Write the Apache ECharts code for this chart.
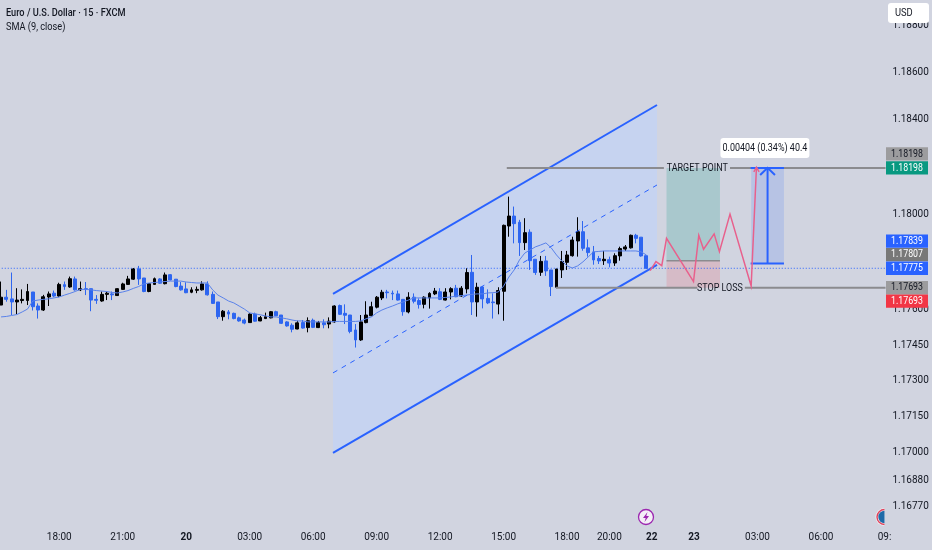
<!DOCTYPE html>
<html><head><meta charset="utf-8">
<style>html,body{margin:0;padding:0;background:#d1d4e0}#c{width:932px;height:550px}</style>
<script src="https://cdn.jsdelivr.net/npm/echarts@6/dist/echarts.min.js"></script>
</head><body><div id="c"></div>
<script>
// Candles: prices
const candleOpen = [1.17620,1.17653,1.17646,1.17633,1.17639,1.17639,1.17675,1.17616,1.17599,1.17654,1.17670,1.17658,1.17706,1.17696,1.17730,1.17684,1.17689,1.17689,1.17644,1.17637,1.17665,1.17667,1.17660,1.17686,1.17707,1.17729,1.17772,1.17734,1.17677,1.17707,1.17730,1.17710,1.17748,1.17729,1.17700,1.17688,1.17674,1.17682,1.17684,1.17709,1.17665,1.17633,1.17571,1.17591,1.17585,1.17566,
1.17557,1.17546,1.17582,1.17553,1.17563,1.17566,1.17592,1.17578,1.17549,1.17535,1.17519,1.17546,1.17525,1.17556,1.17525,1.17545,1.17540,1.17549,1.17618,1.17585,1.17578,1.17515,1.17473,1.17546,1.17575,1.17611,1.17650,1.17675,1.17670,1.17667,
1.17644,1.17591,1.17653,1.17639,1.17623,1.17650,1.17667,1.17676,1.17641,1.17675,1.17691,1.17658,1.17688,1.17758,1.17633,1.17696,1.17648,1.17633,1.17624,1.17678,
1.17953,1.17995,1.17969,1.17883,1.17927,1.17813,1.17758,1.17806,1.17768,1.17695,1.17768,1.17800,1.17828,1.17890,1.17929,1.17861,1.17844,1.17816,1.17807,1.17811,1.17797,1.17827,1.17856,1.17861,1.17914,1.17906,1.17828];
const candleClose = [1.17653,1.17644,1.17633,1.17641,1.17644,1.17677,1.17613,1.17599,1.17655,1.17667,1.17658,1.17707,1.17698,1.17731,1.17684,1.17689,1.17686,1.17641,1.17640,1.17665,1.17670,1.17663,1.17689,1.17709,1.17730,1.17772,1.17730,1.17677,1.17710,1.17731,1.17712,1.17747,1.17726,1.17698,1.17684,1.17672,1.17684,1.17686,1.17709,1.17663,1.17627,1.17571,1.17594,1.17582,1.17563,1.17553,
1.17544,1.17582,1.17552,1.17567,1.17571,1.17592,1.17575,1.17543,1.17532,1.17518,1.17545,1.17523,1.17554,1.17526,1.17546,1.17537,1.17552,1.17616,1.17581,1.17577,1.17509,1.17473,1.17549,1.17578,1.17613,1.17653,1.17674,1.17672,1.17667,1.17641,
1.17592,1.17653,1.17636,1.17622,1.17653,1.17669,1.17679,1.17644,1.17675,1.17689,1.17655,1.17691,1.17757,1.17633,1.17695,1.17646,1.17629,1.17630,1.17681,1.17956,
1.17995,1.17963,1.17883,1.17925,1.17807,1.17757,1.17804,1.17764,1.17698,1.17772,1.17804,1.17831,1.17894,1.17929,1.17859,1.17841,1.17810,1.17806,1.17813,1.17797,1.17828,1.17858,1.17865,1.17914,1.17901,1.17827,1.17775];
const candleLow = [1.17620,1.17634,1.17578,1.17582,1.17627,1.17620,1.17597,1.17563,1.17595,1.17616,1.17653,1.17653,1.17684,1.17693,1.17681,1.17679,1.17662,1.17594,1.17625,1.17634,1.17641,1.17641,1.17658,1.17684,1.17705,1.17726,1.17705,1.17674,1.17674,1.17705,1.17710,1.17707,1.17724,1.17695,1.17681,1.17670,1.17670,1.17670,1.17681,1.17660,1.17625,1.17561,1.17554,1.17560,1.17560,1.17550,
1.17539,1.17545,1.17550,1.17552,1.17561,1.17564,1.17574,1.17540,1.17529,1.17505,1.17518,1.17521,1.17505,1.17523,1.17523,1.17522,1.17522,1.17546,1.17578,1.17540,1.17501,1.17441,1.17469,1.17543,1.17573,1.17606,1.17641,1.17648,1.17641,1.17639,
1.17575,1.17585,1.17627,1.17605,1.17606,1.17605,1.17662,1.17641,1.17639,1.17644,1.17653,1.17655,1.17669,1.17578,1.17571,1.17606,1.17624,1.17563,1.17581,1.17554,
1.17908,1.17880,1.17827,1.17852,1.17768,1.17747,1.17743,1.17743,1.17658,1.17691,1.17734,1.17768,1.17824,1.17824,1.17849,1.17824,1.17790,1.17793,1.17789,1.17779,1.17785,1.17807,1.17848,1.17858,1.17880,1.17824,1.17772];
const candleHigh = [1.17719,1.17684,1.17757,1.17691,1.17686,1.17709,1.17675,1.17627,1.17663,1.17677,1.17681,1.17714,1.17719,1.17740,1.17740,1.17719,1.17717,1.17689,1.17662,1.17677,1.17677,1.17677,1.17691,1.17714,1.17743,1.17776,1.17785,1.17734,1.17712,1.17736,1.17733,1.17757,1.17750,1.17729,1.17717,1.17716,1.17695,1.17698,1.17720,1.17720,1.17677,1.17633,1.17599,1.17599,1.17588,1.17571,
1.17563,1.17585,1.17588,1.17574,1.17588,1.17595,1.17596,1.17578,1.17552,1.17543,1.17554,1.17557,1.17568,1.17563,1.17553,1.17560,1.17568,1.17619,1.17622,1.17623,1.17578,1.17540,1.17578,1.17636,1.17634,1.17658,1.17684,1.17684,1.17681,1.17681,
1.17644,1.17674,1.17669,1.17648,1.17657,1.17674,1.17692,1.17691,1.17691,1.17695,1.17705,1.17700,1.17775,1.17831,1.17714,1.17700,1.17686,1.17669,1.17695,1.17959,
1.18077,1.18035,1.17979,1.17986,1.17939,1.17813,1.17827,1.17827,1.17768,1.17772,1.17848,1.17848,1.17908,1.17990,1.17974,1.17897,1.17869,1.17827,1.17848,1.17824,1.17838,1.17866,1.17873,1.17917,1.17920,1.17906,1.17828];
const smaValues = [1.17570,1.17572,1.17576,1.17580,1.17591,1.17603,1.17637,1.17641,1.17644,1.17646,1.17650,1.17654,1.17662,1.17669,1.17677,1.17686,1.17686,1.17684,1.17681,1.17679,1.17677,1.17673,1.17671,1.17675,1.17681,1.17690,1.17698,1.17709,1.17713,1.17715,1.17717,1.17719,1.17721,1.17721,1.17721,1.17717,1.17715,1.17713,1.17713,1.17713,1.17684,1.17662,1.17650,1.17637,1.17629,1.17616,
1.17603,1.17587,1.17583,1.17579,1.17574,1.17570,1.17570,1.17566,1.17562,1.17557,1.17553,1.17553,1.17549,1.17549,1.17549,1.17549,1.17549,1.17551,1.17551,1.17551,1.17551,1.17551,1.17553,1.17562,1.17570,1.17587,1.17599,1.17608,1.17616,1.17625,
1.17633,1.17641,1.17650,1.17650,1.17650,1.17650,1.17650,1.17650,1.17652,1.17654,1.17658,1.17660,1.17662,1.17665,1.17667,1.17667,1.17671,1.17672,1.17675,1.17700,
1.17738,1.17768,1.17810,1.17839,1.17852,1.17865,1.17873,1.17882,1.17861,1.17831,1.17806,1.17785,1.17776,1.17785,1.17802,1.17823,1.17844,1.17846,1.17848,1.17848,1.17848,1.17848,1.17848,1.17848,1.17848,1.17844,1.17831];

// Time axis labels: candle slot -> text
const timeSlots = [11,23,35,47,59,71,83,95,107,115,123,131,143,155,167];
const timeTexts = ["18:00","21:00","20","03:00","06:00","09:00","12:00","15:00","18:00","20:00","22","23","03:00","06:00","09:"];
const boldTimes = ["20","22","23"];

// Price axis labels
const priceTicks = [1.188,1.186,1.184,1.18,1.176,1.1745,1.173,1.1715,1.17,1.1688,1.1677];

// Price tags on the axis
const tagPrices = [1.18198,1.18198,1.17839,1.17807,1.17775,1.17693,1.17693];

// Drawn objects, as [candle slot, price]
const channelUpper = [[62.75,1.17667],[124.0,1.18463]];
const channelMiddle = [[62.75,1.17334],[124.0,1.18126]];
const channelLower = [[62.75,1.16997],[124.0,1.17789]];
const lastPrice = [[-1,1.17775],[167.3,1.17775]];
const targetLeft = [[95.6,1.18198],[125.3,1.18198]];
const targetRight = [[137.8,1.18198],[167.2,1.18198]];
const stopLeft = [[104.9,1.17693],[131.6,1.17693]];
const stopRight = [[140.6,1.17693],[167.2,1.17693]];
const entryLine = [[125.8,1.17807],[135.9,1.17807]];
const forecast = [[122.7,1.17765],[123.8,1.17803],[124.9,1.17786],[125.8,1.17901],[130.9,1.17719],[131.9,1.17914],[132.8,1.17855],[134.8,1.17920],[135.8,1.17845],[137.8,1.18003],[141.8,1.17700],[142.8,1.18201]];
const forecastHead = [[142.3,1.18181],[142.8,1.18201],[143.3,1.18181]];
const rangeBox = {x:[141.8,148.0], top:1.18198, bottom:1.17795};
const rangeShaft = [[144.9,1.17795],[144.9,1.18198]];
const rangeHead = [[143.5,1.18168],[144.9,1.18198],[146.3,1.18168]];
const rangeTop = [[141.7,1.18198],[148.0,1.18198]];
const rangeBottom = [[141.7,1.17795],[148.0,1.17795]];
const profitBox = {x:[125.8,135.9], top:1.18198, bottom:1.17807};
const lossBox = {x:[125.8,135.9], top:1.17807, bottom:1.17693};

const FONT = 'Roboto, "Liberation Sans", sans-serif';
const INK = '#131722';
const slotCount = 169, slotPx = 5.29;
const catData = Array.from({length:slotCount},(_,i)=>{const j=timeSlots.indexOf(i);return j<0?'':timeTexts[j];});

function lineS(pts, color, width, type, z){
  return {type:'line',xAxisIndex:1,yAxisIndex:0,data:pts,symbol:'none',silent:true,animation:false,z:z||4,
    lineStyle:{color:color,width:width,type:type||'solid',cap:'butt',join:'miter'}};
}
function polyS(pts, fill, z){
  return {type:'custom',xAxisIndex:1,yAxisIndex:0,silent:true,animation:false,z:z||1,clip:false,data:[[0,0]],
    renderItem:(p,api)=>({type:'polygon',shape:{points:pts.map(q=>api.coord(q))},style:{fill:fill}})};
}
function boxPts(b){return [[b.x[0],b.top],[b.x[1],b.top],[b.x[1],b.bottom],[b.x[0],b.bottom]];}
function squeezed(text,x,y,fill,font,sx){
  return {type:'text',x:x,y:y,scaleX:sx||0.78,style:{x:0,y:0,text:text,align:'center',verticalAlign:'middle',fill:fill,font:font}};
}
function labelS(text, at, opts){
  return {type:'custom',xAxisIndex:1,yAxisIndex:0,silent:true,animation:false,z:6,clip:false,data:[[0,0]],
    renderItem:(p,api)=>{const c=api.coord(at);const kids=[];
      if(opts.bg) kids.push({type:'rect',shape:{x:c[0]-opts.w/2,y:c[1]-opts.h/2,width:opts.w,height:opts.h,r:opts.r||0},style:{fill:opts.bg}});
      kids.push(squeezed(text,c[0],c[1],INK,opts.font));
      return {type:'group',children:kids};}};
}
const tagFills = ['#9c9c9e','#089981','#2962ff','#787878','#2962ff','#9c9c9e','#f23645'];
const tagInk = [INK,'#ffffff','#ffffff','#ffffff','#ffffff',INK,'#ffffff'];
const tagShift = [-14,0,-12,-6,0,0,13.4];
const tagSeries = {type:'custom',xAxisIndex:1,yAxisIndex:0,silent:true,animation:false,z:8,clip:false,
  data:tagPrices.map((p,i)=>[i,p]),
  renderItem:(params,api)=>{const i=api.value(0),y=api.coord([0,api.value(1)])[1]+tagShift[i];
    return {type:'group',children:[
      {type:'rect',shape:{x:886,y:y-6.7,width:42,height:13.4},style:{fill:tagFills[i]}},
      squeezed(tagPrices[i].toFixed(5),907,y,tagInk[i],'11px '+FONT,0.8)
    ]};}};

const chart = echarts.init(document.getElementById('c'),null,{renderer:'canvas'});
chart.setOption({
  animation:false,
  backgroundColor:'#d1d4e0',
  grid:{left:-1.6,top:0,width:slotCount*slotPx,height:525,containLabel:false,outerBoundsMode:'none'},
  xAxis:[
    {type:'category',data:catData,axisLine:{show:false},axisTick:{show:false},splitLine:{show:false},
     axisLabel:{interval:0,margin:7,hideOverlap:false,showMinLabel:true,showMaxLabel:true,fontFamily:FONT,fontSize:10,color:INK,
       formatter:v=>v===''?'':(boldTimes.includes(v)?'{b|'+v+'}':v),
       rich:{b:{fontFamily:FONT,fontSize:10,fontWeight:'bold',color:INK}}}},
    {type:'value',show:false,min:-0.5,max:slotCount-0.5}
  ],
  yAxis:[{type:'value',position:'right',min:1.166931,max:1.189055,axisLine:{show:false},axisTick:{show:false},splitLine:{show:false},
    axisLabel:{customValues:priceTicks,margin:0,align:'left',fontFamily:FONT,fontSize:10,color:INK,formatter:v=>v.toFixed(5)}}],
  graphic:[
    {type:'text',z:100,x:6,y:13,scaleX:0.8,style:{x:0,y:0,text:'Euro / U.S. Dollar · 15 · FXCM',verticalAlign:'middle',font:'500 11.5px '+FONT,fill:INK}},
    {type:'text',z:100,x:6,y:27,scaleX:0.8,style:{x:0,y:0,text:'SMA (9, close)',verticalAlign:'middle',font:'11.5px '+FONT,fill:INK}},
    {type:'rect',z:100,shape:{x:888,y:3,width:41,height:20,r:3},style:{fill:'#ffffff'}},
    {type:'text',z:101,x:895,y:13.5,scaleX:0.85,style:{x:0,y:0,text:'USD',verticalAlign:'middle',font:'11px '+FONT,fill:INK}},
    {type:'circle',z:100,shape:{cx:646,cy:517,r:7.5},style:{fill:'#f4eff7',stroke:'#9c27b0',lineWidth:1.3}},
    {type:'polygon',z:101,shape:{points:[[647.5,512],[643,518],[645.7,518],[644.5,522],[649,516],[646.3,516]]},style:{fill:'#9c27b0'}},
    {type:'sector',z:100,shape:{cx:884.5,cy:517,r:9,r0:0,startAngle:Math.PI/2,endAngle:Math.PI*1.5},style:{fill:'#f0f0f4'}},
    {type:'sector',z:101,shape:{cx:884.5,cy:517,r:8.2,r0:6.8,startAngle:Math.PI/2,endAngle:Math.PI*1.5},style:{fill:'#e0405a'}},
    {type:'sector',z:101,shape:{cx:884.5,cy:517,r:6.2,r0:0,startAngle:Math.PI/2,endAngle:Math.PI*1.5},style:{fill:'#1f6aa8'}}
  ],
  series:[
    polyS([channelUpper[0],channelUpper[1],channelLower[1],channelLower[0]],'rgba(190,210,250,0.6)',1),
    polyS(boxPts(profitBox),'rgba(8,153,129,0.2)',1),
    polyS(boxPts(lossBox),'rgba(242,54,69,0.16)',1),
    polyS(boxPts(rangeBox),'rgba(41,98,255,0.15)',1),
    lineS(lastPrice,'#2962ff',1,[1,2],1),
    {type:'candlestick',xAxisIndex:0,yAxisIndex:0,silent:true,animation:false,z:2,barWidth:3.4,clip:true,
     data:candleOpen.map((o,i)=>[o,candleClose[i],candleLow[i],candleHigh[i]]),
     itemStyle:{color:'#000000',color0:'#2e66f0',borderColor:'#000000',borderColor0:'#2e66f0',borderWidth:1}},
    {type:'line',xAxisIndex:0,yAxisIndex:0,data:smaValues,symbol:'none',silent:true,animation:false,z:3,lineStyle:{color:'#5a82ea',width:1}},
    lineS(channelUpper,'#2962ff',2),
    lineS(channelLower,'#2962ff',2),
    lineS(channelMiddle,'#2962ff',1,[5,5]),
    lineS(targetLeft,'#8b8b8f',2),
    lineS(targetRight,'#8b8b8f',2),
    lineS(stopLeft,'#8b8b8f',2),
    lineS(stopRight,'#8b8b8f',2),
    lineS(entryLine,'#8b8b8f',1.5),
    lineS(forecast,'#e8608c',1.5,'solid',5),
    lineS(forecastHead,'#e8608c',1.5,'solid',5),
    lineS(rangeShaft,'#2962ff',2),
    lineS(rangeHead,'#2962ff',2),
    lineS(rangeTop,'#2962ff',2),
    lineS(rangeBottom,'#2962ff',2),
    labelS('TARGET POINT',[131.6,1.18198],{font:'11.5px '+FONT}),
    labelS('STOP LOSS',[135.9,1.17693],{font:'11.5px '+FONT}),
    labelS('0.00404 (0.34%) 40.4',[144.4,1.18282],{w:89,h:20,r:3,bg:'#ffffff',font:'11.5px '+FONT}),
    tagSeries
  ]
});
</script></body></html>
